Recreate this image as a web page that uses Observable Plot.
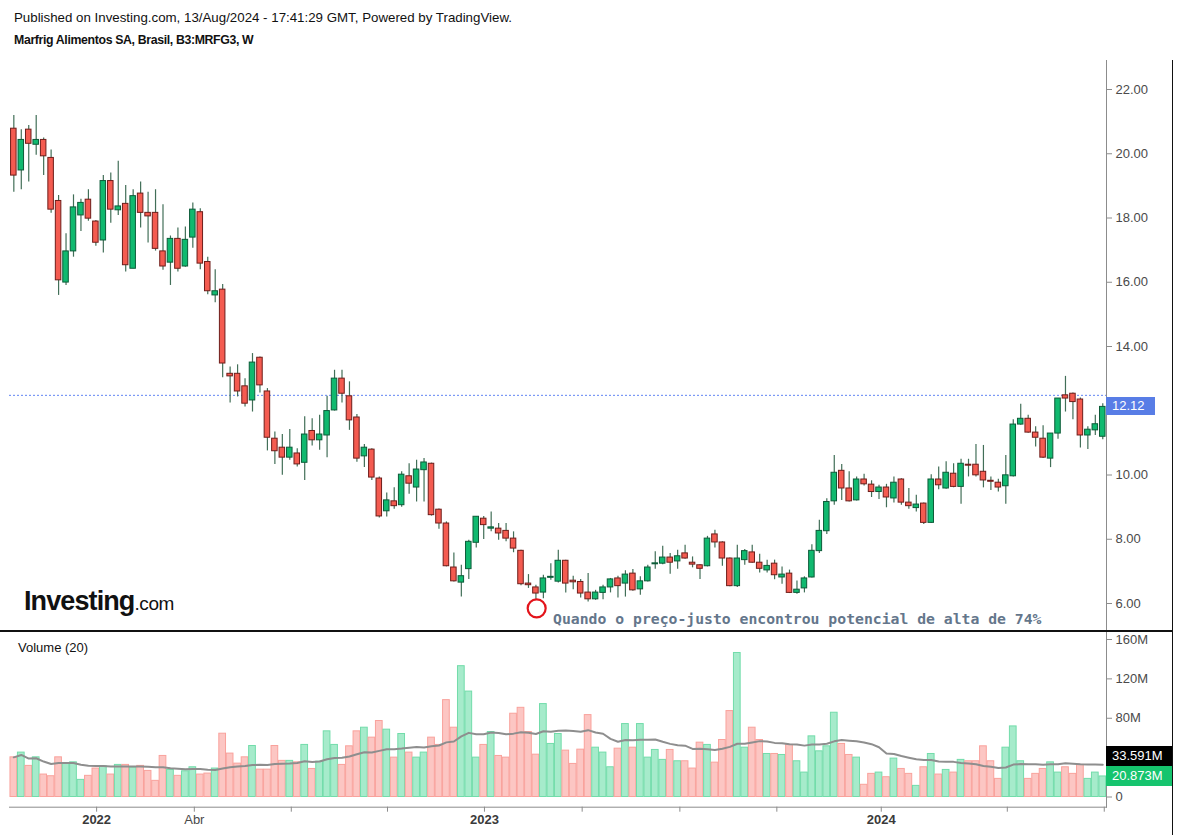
<!DOCTYPE html>
<html><head><meta charset="utf-8">
<script src="https://cdn.jsdelivr.net/npm/d3@7"></script>
<script src="https://cdn.jsdelivr.net/npm/@observablehq/plot@0.6"></script>
<style>
html,body{margin:0;padding:0;background:#fff;}
body{width:1181px;height:835px;position:relative;overflow:hidden;font-family:"Liberation Sans",Arial,sans-serif;}
.abs{position:absolute;}
#hdr1{left:14px;top:10px;font-size:13.3px;color:#111;white-space:nowrap;}
#hdr2{left:14px;top:33px;font-size:12.3px;letter-spacing:-0.35px;font-weight:bold;color:#111;white-space:nowrap;}
#pricePlot{left:0;top:56px;}
#volPlot{left:0;top:632px;}
.sep{background:#111;}
.lbl{color:#fff;font-size:13px;line-height:20px;padding-left:6px;box-sizing:border-box;white-space:nowrap;}
#logo{left:24px;top:586px;white-space:nowrap;color:#111;}
#logo b{font-size:27px;letter-spacing:-0.9px;font-weight:bold;}
#logo span{font-size:19px;letter-spacing:-0.4px;}
#volTitle{left:18px;top:640px;font-size:13px;color:#111;}
</style></head><body>
<div id="hdr1" class="abs">Published on Investing.com, 13/Aug/2024 - 17:41:29 GMT, Powered by TradingView.</div>
<div id="hdr2" class="abs">Marfrig Alimentos SA, Brasil, B3:MRFG3, W</div>
<div id="pricePlot" class="abs"></div>
<div id="volPlot" class="abs"></div>
<div id="logo" class="abs"><b>Investing</b><span>.com</span></div>
<div id="volTitle" class="abs">Volume (20)</div>
<script>
// ---- data (weekly candles, index 0 = first week shown) ----
const opens  = [20.78,19.48,20.75,20.28,20.43,19.87,18.53,15.99,16.96,18.08,18.57,17.89,17.30,19.15,18.24,18.44,16.42,18.76,18.16,18.16,16.96,16.61,17.35,16.49,17.39,18.18,16.63,15.59,15.77,13.15,13.15,12.76,12.32,13.65,12.60,11.13,10.85,10.54,10.67,10.38,11.37,11.08,11.23,12.01,13.00,12.45,11.79,10.58,10.79,9.89,8.87,9.18,9.06,9.96,9.61,10.15,10.35,8.92,8.49,7.12,6.65,7.07,7.89,8.64,8.33,8.33,8.26,8.02,7.64,6.62,6.50,6.34,6.80,6.68,7.33,6.71,6.67,6.34,6.13,6.33,6.50,6.78,6.62,6.93,6.44,6.69,7.22,7.24,7.43,7.31,7.56,7.27,7.19,7.16,8.15,7.90,7.40,6.54,7.35,7.59,7.27,7.03,7.24,6.81,6.93,6.33,6.47,6.81,7.63,8.25,9.18,10.13,9.58,9.21,9.86,9.70,9.47,9.61,9.27,9.86,9.14,8.97,9.11,8.51,9.86,9.58,10.04,9.63,10.32,10.32,10.10,9.82,9.76,9.65,9.96,11.57,11.75,11.32,11.13,10.51,11.29,12.48,12.53,12.35,11.23,11.39,11.19];
const highs  = [21.19,20.75,20.88,21.19,20.49,20.12,18.70,17.51,18.72,18.58,18.88,17.92,19.32,19.40,19.77,19.01,18.88,19.12,18.80,18.88,18.41,17.44,17.69,17.72,18.47,18.29,16.78,16.39,15.93,13.36,13.43,13.00,13.78,13.67,12.69,11.34,11.26,11.42,10.82,11.81,11.75,11.86,12.45,13.26,13.26,12.90,11.88,10.95,10.82,9.94,9.44,9.60,10.10,10.35,10.46,10.51,10.37,8.94,8.54,7.57,7.19,7.97,8.71,8.71,8.85,8.49,8.49,8.23,7.66,6.90,6.57,6.88,7.24,7.66,7.35,6.85,6.75,6.93,6.41,6.57,6.78,6.85,7.02,7.06,6.83,7.19,7.61,7.78,7.56,7.66,7.81,7.45,7.21,8.09,8.28,7.92,7.42,7.81,7.68,7.81,7.53,7.35,7.35,7.14,7.04,6.70,6.83,7.83,8.59,9.26,10.61,10.33,10.10,9.94,10.02,9.82,9.68,9.71,9.94,9.88,9.58,9.37,9.13,10.01,10.25,10.41,10.35,10.49,10.49,10.95,10.92,9.94,9.87,10.61,11.72,12.20,11.86,11.50,11.53,11.29,12.38,13.07,12.55,12.40,11.50,11.86,12.22];
const lows   = [18.80,18.88,19.12,19.95,19.32,18.15,15.59,15.90,16.78,17.58,17.90,17.12,16.91,17.84,18.08,16.32,16.42,17.69,17.22,16.97,16.37,15.90,16.32,16.47,17.06,16.39,15.61,15.36,13.03,12.24,12.43,12.12,11.96,12.55,10.75,10.33,9.99,10.46,10.25,9.83,10.90,10.77,10.54,11.99,12.24,11.39,10.40,10.23,9.83,8.66,8.69,8.93,9.00,9.40,9.16,9.16,8.72,8.31,7.14,6.67,6.20,6.75,7.73,7.99,8.23,7.97,7.92,7.58,6.55,6.47,6.12,6.15,6.72,6.64,6.33,6.43,6.17,6.05,6.10,6.12,6.33,6.17,6.20,6.38,6.26,6.67,7.07,7.21,6.91,7.07,7.38,7.11,6.75,7.14,7.73,7.16,6.52,6.50,7.19,7.25,6.95,6.95,6.74,6.60,6.31,6.29,6.33,6.79,7.56,8.15,9.06,9.21,9.16,9.19,9.66,9.30,9.24,8.98,9.13,9.06,8.93,8.85,8.46,8.49,9.54,9.56,9.60,9.09,9.94,9.94,9.60,9.52,9.47,9.09,9.94,11.55,11.30,10.87,10.51,10.23,11.11,11.96,11.72,10.84,10.79,11.23,11.10];
const closes = [19.32,20.43,20.31,20.43,19.92,18.26,16.06,16.96,18.33,18.47,17.98,17.23,19.15,18.26,18.36,16.53,18.68,18.16,18.05,17.04,16.49,17.35,16.42,17.32,18.26,16.58,15.72,15.72,13.47,13.07,12.60,12.22,13.50,12.79,11.16,10.74,10.54,10.85,10.33,11.26,11.08,11.26,11.99,13.00,12.53,11.70,10.51,10.85,9.92,8.71,9.21,9.03,10.01,9.73,10.17,10.39,8.75,8.49,7.16,6.69,6.85,7.92,8.70,8.44,8.37,8.18,8.02,7.71,6.60,6.57,6.31,6.78,6.83,7.33,6.62,6.66,6.31,6.13,6.34,6.50,6.75,6.54,6.90,6.41,6.69,7.12,7.25,7.43,7.27,7.47,7.40,7.21,7.08,8.02,7.90,7.40,6.54,7.40,7.63,7.27,7.08,7.17,6.88,6.90,6.33,6.43,6.78,7.64,8.26,9.16,10.07,9.58,9.18,9.86,9.71,9.47,9.61,9.30,9.76,9.14,9.03,9.08,8.51,9.86,9.68,10.07,9.63,10.35,10.29,9.99,9.83,9.79,9.61,9.99,11.57,11.75,11.32,11.16,10.54,11.29,12.38,12.38,12.27,11.23,11.41,11.58,12.12];
const volumesM = [40.3,45.1,31.6,40.3,22.8,21.1,40.3,33.9,35.2,17.4,21.5,28.9,31.2,22.8,32.6,32.6,29.9,31.6,26.5,16.4,41.7,27.5,21.5,26.1,30.2,22.8,23.8,28.9,64.3,44.1,33.9,40.3,51.8,27.8,27.8,51.8,36.7,36.7,
  35.2,52.9,28.5,35.9,66.7,52.9,32.6,51.5,66.7,70.4,60.3,77.2,68.4,40.0,64.0,45.1,40.0,45.1,60.3,52.9,98.4,70.4,132.9,107.1,40.0,52.9,66.0,41.7,40.0,84.6,90.6,66.0,43.0,94.4,53.9,64.0,47.1,33.6,48.1,83.2,
  50.1,45.1,30.2,49.1,74.1,50.1,74.1,40.0,47.8,37.7,47.8,36.3,36.3,28.9,55.2,52.9,34.9,57.9,87.3,146.3,50.1,70.4,57.9,43.7,43.7,42.7,52.9,36.3,24.8,61.6,46.4,51.5,85.6,53.9,42.7,40.0,12.4,23.5,24.8,
  20.1,39.0,28.5,23.5,11.3,30.2,43.7,22.8,27.5,24.8,37.7,36.3,36.3,51.5,36.3,18.4,50.1,71.7,36.3,18.4,23.5,28.5,35.2,24.8,30.2,23.5,32.6,18.4,24.8,20.873];

// tick values shown on the right axes (12.00 and 40M are hidden behind the value labels)
const priceTicks = [6,8,10,14,16,18,20,22];
const volumeTicks = [0,80,120,160];
const lastPrice = 12.12;
const lastVolumeLabel = 20.873;
const volumeMALabel = 33.591;
const refLevel = 12.48;
// x-axis tick positions (in week-index units) and their labels
const xTickPos    = [11.1, 24.2, 37.2, 50.1, 63.1, 76.2, 89.3, 102.3, 116.3, 133.2, 146.2];
const xYearTicks  = [11.1, 63.1, 116.3];
const xYearLabels = ["2022", "2023", "2024"];
const xMonthTicks = [24.2];
const xMonthLabels = ["Abr"];
const note = {i: 70.1, price: 5.85, ti: 72.3, tp: 5.50, text: "Quando o preço-justo encontrou potencial de alta de 74%"};

const candles = opens.map((o, i) => ({
  i, open: o, high: highs[i], low: lows[i], close: closes[i], volume: volumesM[i], up: closes[i] >= o
}));

const FONT = "'Liberation Sans', Arial, sans-serif";
const xScale = {type: "linear", domain: [-0.58, 146.5], range: [9, 1106]};

const pricePlot = Plot.plot({
  width: 1181, height: 576,
  marginTop: 4, marginBottom: 1, marginLeft: 9, marginRight: 75,
  x: {...xScale, axis: null},
  y: {domain: [6, 22], range: [547, 33], axis: null},
  style: {fontFamily: FONT, fontSize: "13px", color: "#4a4a4a", background: "transparent", overflow: "visible"},
  marks: [
    Plot.frame({anchor: "right", stroke: "#8c8c8c"}),
    Plot.axisY({anchor: "right", label: null, ticks: priceTicks, tickFormat: d => d.toFixed(2), tickSize: 5, tickPadding: 4, stroke: "#8c8c8c", fill: "#4a4a4a"}),
    Plot.ruleY([refLevel], {stroke: "#4f78f2", strokeDasharray: "2,2", strokeWidth: 1, strokeOpacity: 0.9}),
    Plot.ruleX(candles, {x: "i", y1: "low", y2: "high", stroke: "#426f58", strokeWidth: 1.2}),
    Plot.rect(candles, {
      x1: d => d.i - 0.37, x2: d => d.i + 0.37, y1: "open", y2: "close",
      fill: d => d.up ? "#10b96f" : "#f45b50",
      stroke: d => d.up ? "#0c5b38" : "#6e1d1a", strokeWidth: 1
    }),
    Plot.dot([note], {x: "i", y: "price", r: 9, stroke: "#e3141b", strokeWidth: 2.2, fill: "none"}),
    Plot.text([note], {x: "ti", y: "tp", text: "text", textAnchor: "start", fill: "#64768b",
      fontFamily: "'DejaVu Sans Mono', monospace", fontWeight: "bold", fontSize: 14.75})
  ]
});
document.getElementById("pricePlot").appendChild(pricePlot);

const volPlot = Plot.plot({
  width: 1181, height: 203,
  marginTop: 0, marginBottom: 28.3, marginLeft: 9, marginRight: 75,
  x: {...xScale, axis: null},
  y: {domain: [0, 160], range: [164.5, 7], axis: null},
  style: {fontFamily: FONT, fontSize: "13px", color: "#4a4a4a", background: "transparent", overflow: "visible"},
  marks: [
    Plot.rect(candles, {
      x1: d => d.i - 0.45, x2: d => d.i + 0.45, y1: 0, y2: "volume",
      fill: d => d.up ? "#a6ebcb" : "#fcc6c3",
      stroke: d => d.up ? "#72dcaa" : "#f9a29c", strokeWidth: 1
    }),
    Plot.lineY(candles, Plot.windowY({k: 20, anchor: "end", strict: false}, {x: "i", y: "volume", stroke: "#8e8e8e", strokeWidth: 2})),
    Plot.frame({anchor: "right", stroke: "#8c8c8c"}),
    Plot.frame({anchor: "bottom", stroke: "#8c8c8c"}),
    Plot.axisY({anchor: "right", label: null, ticks: volumeTicks, tickFormat: d => d === 0 ? "0" : d + "M", tickSize: 5, tickPadding: 4, stroke: "#8c8c8c", fill: "#4a4a4a"}),
    Plot.axisX({anchor: "bottom", label: null, ticks: xTickPos, tickFormat: () => "", tickSize: 5, stroke: "#8c8c8c"}),
    Plot.axisX({anchor: "bottom", label: null, ticks: xYearTicks, tickFormat: d => xYearLabels[xYearTicks.indexOf(d)], tickSize: 0, tickPadding: 8, fontWeight: "bold", fill: "#3a3a3a"}),
    Plot.axisX({anchor: "bottom", label: null, ticks: xMonthTicks, tickFormat: d => xMonthLabels[xMonthTicks.indexOf(d)], tickSize: 0, tickPadding: 8, fill: "#4a4a4a"})
  ]
});
document.getElementById("volPlot").appendChild(volPlot);

// value labels on the right axis, positioned through the plots' own scales
function addLabel(text, top, bg, color) {
  const d = document.createElement("div");
  d.className = "abs lbl";
  d.textContent = text;
  Object.assign(d.style, {left: "1106px", top: top + "px", height: "20px", background: bg, color: color || "#fff"});
  document.body.appendChild(d);
  return d;
}
const yP = pricePlot.scale("y");
const pl = addLabel(lastPrice.toFixed(2), 56 + yP.apply(lastPrice) - 9, "#587de6");
pl.style.width = "49px"; pl.style.height = "18px"; pl.style.lineHeight = "18px";
const yV = volPlot.scale("y");
const gTop = 632 + yV.apply(lastVolumeLabel) - 10;
const g = addLabel(lastVolumeLabel.toFixed(3) + "M", gTop, "#16c46e");
g.style.width = "66px";
const bTop = Math.min(632 + yV.apply(volumeMALabel) - 10, gTop - 20);
const b = addLabel(volumeMALabel.toFixed(3) + "M", bTop, "#000");
b.style.width = "66px";

// panel separators / border
function line(l, t, w, h) {
  const d = document.createElement("div");
  d.className = "abs sep";
  Object.assign(d.style, {left: l + "px", top: t + "px", width: w + "px", height: h + "px"});
  document.body.appendChild(d);
}
line(0, 630, 1173, 2);
line(1172, 60, 1, 775);
</script>
</body></html>
